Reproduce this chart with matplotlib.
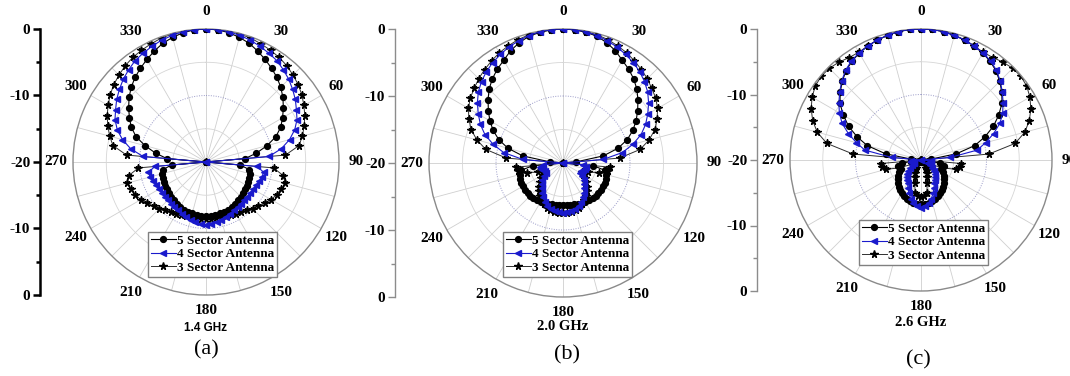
import matplotlib
matplotlib.use("Agg")
import matplotlib.pyplot as plt
import numpy as np

# angles 0..355 deg, step 5 (0 at top, clockwise); values in dB
angles = list(range(0, 360, 5))

a5 = [0, -0.05, -0.25, -0.6, -1.0, -1.6, -2.2, -2.8, -3.4, -4.1, -4.9, -5.8, -6.7, -7.6, -8.8, -10.5, -12.3, -14.1,
      -20,
      -14.8, -13.4, -13.2, -13.1, -13.0, -12.9, -12.8, -12.7, -12.6, -12.5, -12.3, -12.2, -12.1, -12.0, -12.0, -11.9, -11.9, -11.9,
      -11.9, -11.9, -12.0, -12.0, -12.1, -12.2, -12.3, -12.5, -12.6, -12.7, -12.8, -12.9, -13.0, -13.1, -13.2, -13.4, -14.8,
      -20,
      -14.1, -12.3, -10.5, -8.8, -7.6, -6.7, -5.8, -4.9, -4.1, -3.4, -2.8, -2.2, -1.6, -1.0, -0.6, -0.25, -0.05]
a4 = [0, 0, -0.1, -0.3, -0.5, -0.8, -1.1, -1.4, -1.9, -2.4, -3.0, -3.6, -4.3, -4.9, -5.8, -7.0, -8.5, -10.5,
      -20,
      -12.3, -11.2, -11.3, -11.5, -11.7, -11.8, -11.9, -11.9, -11.9, -11.8, -11.7, -11.6, -11.4, -11.2, -11.0, -10.8, -10.6, -10.5,
      -10.6, -10.8, -11.0, -11.2, -11.4, -11.6, -11.7, -11.8, -11.9, -11.9, -11.9, -11.8, -11.7, -11.5, -11.3, -11.2, -12.3,
      -20,
      -10.5, -8.5, -7.0, -5.8, -4.9, -4.3, -3.6, -3.0, -2.4, -1.9, -1.4, -1.1, -0.8, -0.5, -0.3, -0.1, 0]
a3 = [0, 0, 0, -0.1, -0.2, -0.4, -0.6, -0.8, -1.1, -1.5, -1.9, -2.4, -3.0, -3.6, -4.3, -5.0, -5.8, -8.0,
      -20,
      -9.8, -8.2, -7.7, -8.0, -8.3, -8.7, -9.2, -9.7, -10.1, -10.5, -10.8, -11.0, -11.2, -11.3, -11.4, -11.4, -11.4, -11.4,
      -11.4, -11.4, -11.4, -11.3, -11.2, -11.0, -10.8, -10.5, -10.1, -9.7, -9.2, -8.7, -8.3, -8.0, -7.7, -8.2, -9.8,
      -20,
      -8.0, -5.8, -5.0, -4.3, -3.6, -3.0, -2.4, -1.9, -1.5, -1.1, -0.8, -0.6, -0.4, -0.2, -0.1, 0, 0]

b5 = [0, -0.05, -0.2, -0.4, -0.9, -1.5, -2.3, -2.9, -3.6, -4.4, -5.4, -6.4, -7.4, -8.5, -9.8, -11.5, -13.9, -18.0,
      -20,
      -15.5, -13.6, -13.3, -13.2, -13.1, -13.1, -13.1, -13.1, -13.1, -13.1, -13.2, -13.3, -13.4, -13.5, -13.6, -13.6, -13.7, -13.7,
      -13.7, -13.6, -13.6, -13.5, -13.4, -13.3, -13.2, -13.1, -13.1, -13.1, -13.1, -13.1, -13.1, -13.2, -13.3, -13.6, -15.5,
      -20,
      -18.0, -13.9, -11.5, -9.8, -8.5, -7.4, -6.4, -5.4, -4.4, -3.6, -2.9, -2.3, -1.5, -0.9, -0.4, -0.2, -0.05]
b4 = [0, 0, -0.1, -0.3, -0.6, -0.9, -1.3, -1.7, -2.2, -2.8, -3.5, -4.4, -5.4, -6.4, -7.6, -9.2, -11.0, -14.0,
      -20,
      -17.0, -16.5, -16.6, -16.9, -17.0, -17.0, -16.5, -16.0, -15.6, -15.1, -14.6, -14.1, -13.6, -13.2, -12.9, -12.7, -12.6, -12.5,
      -12.6, -12.7, -12.9, -13.2, -13.6, -14.1, -14.6, -15.1, -15.6, -16.0, -16.5, -17.0, -17.0, -16.9, -16.6, -16.5, -17.0,
      -20,
      -14.0, -11.0, -9.2, -7.6, -6.4, -5.4, -4.4, -3.5, -2.8, -2.2, -1.7, -1.3, -0.9, -0.6, -0.3, -0.1, 0]
b3 = [0, 0, -0.1, -0.2, -0.4, -0.7, -1.0, -1.4, -1.8, -2.2, -2.7, -3.1, -3.7, -4.5, -5.4, -6.7, -8.3, -11.5,
      -20,
      -13.0, -13.2, -14.5, -16.0, -16.8, -16.5, -16.0, -15.5, -15.0, -14.5, -14.0, -13.6, -13.2, -12.9, -12.7, -12.6, -12.5, -12.5,
      -12.5, -12.6, -12.7, -12.9, -13.2, -13.6, -14.0, -14.5, -15.0, -15.5, -16.0, -16.5, -16.8, -16.0, -14.5, -13.2, -13.0,
      -20,
      -11.5, -8.3, -6.7, -5.4, -4.5, -3.7, -3.1, -2.7, -2.2, -1.8, -1.4, -1.0, -0.7, -0.4, -0.2, -0.1, 0]

c5 = [0, 0, -0.1, -0.3, -0.5, -0.8, -1.15, -1.6, -2.2, -3.0, -3.9, -4.9, -6.3, -7.8, -9.6, -11.5, -14.5, -18.5,
      -20,
      -19.0, -17.0, -16.4, -16.6, -16.6, -16.2, -15.8, -15.4, -15.0, -14.7, -14.4, -14.1, -13.9, -13.7, -13.5, -13.4, -13.3, -13.3,
      -13.3, -13.4, -13.5, -13.7, -13.9, -14.1, -14.4, -14.7, -15.0, -15.4, -15.8, -16.2, -16.6, -16.6, -16.4, -17.0, -19.0,
      -20,
      -18.5, -14.5, -11.5, -9.6, -7.8, -6.3, -4.9, -3.9, -3.0, -2.2, -1.6, -1.15, -0.8, -0.5, -0.3, -0.1, 0]
c4 = [0, 0, -0.1, -0.3, -0.5, -0.8, -1.1, -1.5, -2.1, -2.9, -3.8, -4.7, -5.6, -6.7, -8.2, -9.8, -11.3, -15.5,
      -20,
      -18.5, -18.5, -18.6, -18.8, -18.8, -18.5, -18.0, -17.4, -17.0, -16.6, -16.2, -15.9, -15.3, -14.6, -13.9, -13.3, -12.9, -12.7,
      -12.9, -13.3, -13.9, -14.6, -15.3, -15.9, -16.2, -16.6, -17.0, -17.4, -18.0, -18.5, -18.8, -18.8, -18.6, -18.5, -18.5,
      -20,
      -15.5, -11.3, -9.8, -8.2, -6.7, -5.6, -4.7, -3.8, -2.9, -2.1, -1.5, -1.1, -0.8, -0.5, -0.3, -0.1, 0]
c3 = [0, 0, -0.1, -0.3, -0.5, -0.8, -1.0, -0.9, -0.5, -0.2, -0.1, -0.3, -0.8, -1.5, -2.4, -3.6, -5.4, -9.6,
      -20,
      -13.8, -13.9, -14.5, -16.5, -18.5, -19.5, -20, -20, -19.5, -19.0, -18.6, -18.2, -17.8, -17.3, -16.3, -14.9, -14.5, -14.4,
      -14.5, -14.9, -16.3, -17.3, -17.8, -18.2, -18.6, -19.0, -19.5, -20, -20, -19.5, -18.5, -16.5, -14.5, -13.9, -13.8,
      -20,
      -9.6, -5.4, -3.6, -2.4, -1.5, -0.8, -0.3, -0.1, -0.2, -0.5, -0.9, -1.0, -0.8, -0.5, -0.3, -0.1, 0]

labels = ["5 Sector Antenna", "4 Sector Antenna", "3 Sector Antenna"]
freqs = ["1.4 GHz", "2.0 GHz", "2.6 GHz"]
captions = ["(a)", "(b)", "(c)"]
theta_labels = [0, 30, 60, 90, 120, 150, 180, 210, 240, 270, 300, 330]
r_ticks = [-20, -10, 0, 10, 20]
r_ticklabels = ["0", "-10", "-20", "-10", "0"]

W, H = 1070, 376
fig = plt.figure(figsize=(W / 100, H / 100), dpi=100)
serif = "Liberation Serif"

def fx(x):
    return x / W

def fy(y):
    return 1 - y / H

# pixel geometry of each panel: polar centre, radius, left axis x, legend corner, texts
panels = [
    dict(cx=206, cy=162, R=133, axx=40, axc="black", axlw=1.8, leg=(148, 232),
         freq_y=328, freq_font=("Liberation Sans", 8.5), cap=(206, 350)),
    dict(cx=563, cy=163, R=134, axx=395, axc="#8c8c8c", axlw=1.0, leg=(503, 232),
         freq_y=327, freq_font=(serif, 10.5), cap=(567, 355)),
    dict(cx=921, cy=160, R=131, axx=757, axc="#8c8c8c", axlw=1.0, leg=(859, 220),
         freq_y=323, freq_font=(serif, 10.5), cap=(918, 360)),
]
data = [(a5, a4, a3), (b5, b4, b3), (c5, c4, c3)]

th = np.deg2rad(angles + [360])
full = np.linspace(0, 2 * np.pi, 361)

for i, p in enumerate(panels):
    cx, cy, R = p["cx"], p["cy"], p["R"]
    ax = fig.add_axes([fx(cx - R), fy(cy + R), 2 * R / W, 2 * R / H], projection="polar")
    ax.set_theta_zero_location("N")
    ax.set_theta_direction(-1)
    ax.set_ylim(-20, 0)
    ax.set_xticks([])
    ax.set_yticks([])
    ax.grid(False)
    ax.spines["polar"].set_color("#8a8a8a")
    ax.spines["polar"].set_linewidth(1.0)

    # grid
    for ang in range(0, 360, 15):
        ax.plot([np.deg2rad(ang)] * 2, [-20, 0], color="#cfcfcf", lw=0.6, zorder=0)
    for rr in (-15, -5):
        ax.plot(full, [rr] * len(full), color="#d6d6d6", lw=0.6, zorder=0)
    ax.plot(full, [-10] * len(full), color="#9a9ac8", lw=0.7, ls=(0, (1, 1.5)), zorder=0)

    s5, s4, s3 = data[i]
    ax.plot(th, s5 + s5[:1], color="black", lw=0.8, marker="o", ms=4.2, label=labels[0], zorder=3)
    ax.plot(th, s4 + s4[:1], color="#1a1acc", lw=0.8, marker="<", ms=4.8, label=labels[1], zorder=4)
    ax.plot(th, s3 + s3[:1], color="#303030", lw=0.7, marker="*", ms=5.5, mfc="black", mec="black",
            label=labels[2], zorder=2)

    for t in theta_labels:
        r_lab = 2.3 if t == 180 else 2.6
        ax.text(np.deg2rad(t), r_lab, str(t), ha="center", va="center", fontsize=11,
                fontweight="bold", family=serif, clip_on=False)

    lx, ly = p["leg"]
    ax.legend(loc="upper left", bbox_to_anchor=(fx(lx), fy(ly)), bbox_transform=fig.transFigure,
              frameon=True, fancybox=False, edgecolor="#808080", framealpha=1,
              borderpad=0.2, labelspacing=0.1, handlelength=1.9, handletextpad=0.1,
              borderaxespad=0, prop=dict(family=serif, weight="bold", size=9.5))

    # linear dB axis on the left
    lax = fig.add_axes([fx(p["axx"]), fy(cy + R), 0.001, 2 * R / H])
    lax.set_ylim(-20, 20)
    lax.invert_yaxis()
    for s in ("top", "right", "bottom"):
        lax.spines[s].set_visible(False)
    lax.spines["left"].set_color(p["axc"])
    lax.spines["left"].set_linewidth(p["axlw"])
    lax.set_xticks([])
    lax.set_yticks(r_ticks)
    lax.set_yticklabels(r_ticklabels, family=serif, fontweight="bold", fontsize=11)
    lax.set_yticks(np.arange(-15, 20, 10), minor=True)
    lax.tick_params(axis="y", which="major", length=5, width=p["axlw"], color=p["axc"], pad=2)
    lax.tick_params(axis="y", which="minor", length=3, width=p["axlw"], color=p["axc"])

    fam, fs = p["freq_font"]
    fig.text(fx(cx), fy(p["freq_y"]), freqs[i], ha="center", va="center", family=fam,
             fontweight="bold", fontsize=fs)
    fig.text(fx(p["cap"][0]), fy(p["cap"][1]), captions[i], ha="center", va="center",
             family=serif, fontsize=16)

fig.savefig("out.png", dpi=100)
